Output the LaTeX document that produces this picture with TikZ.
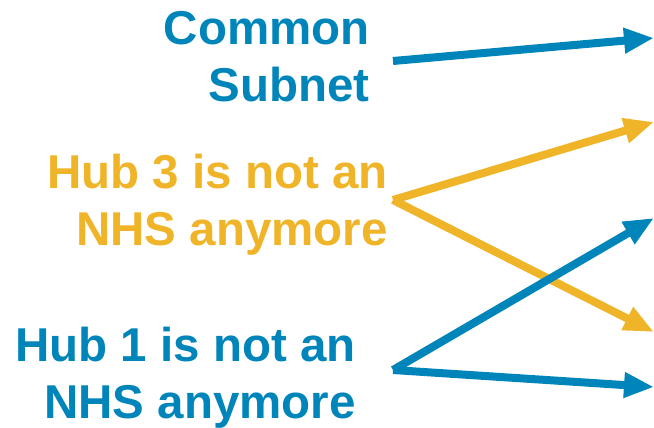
\documentclass[tikz,border=0pt]{standalone}
\usepackage{fontspec}
\setmainfont{Liberation Sans}
\usepackage{xcolor}
\usepackage{tikz}
\usetikzlibrary{arrows.meta}

\definecolor{hubblue}{HTML}{0085BA}
\definecolor{hubyellow}{HTML}{F0B428}

\tikzset{
  labeltext/.style={font=\bfseries\fontsize{47.5}{57}\selectfont, align=right, inner sep=0pt, anchor=north east},
  bigarrow/.style={line width=8pt, -{Triangle[length=30pt,width=24pt]}},
}

\begin{document}
\begin{tikzpicture}[x=1pt,y=-1pt]
            \useasboundingbox (0,0) rectangle (654,428);
            %%% COORDINATES %%%
            \coordinate (cs) at (393,61);
            \coordinate (h3) at (393,200);
            \coordinate (h1) at (393,370);
            \coordinate (t1) at (654,38);
            \coordinate (t2) at (654,122);
            \coordinate (t3) at (654,218);
            \coordinate (t4) at (654,332);
            \coordinate (t5) at (654,387);

            %%% LABELS %%%
            \node[labeltext, text=hubblue] (common) at (370,11) {Common\\Subnet};
            \node[labeltext, text=hubyellow] (hubthree) at (388,154) {Hub 3 is not an\\NHS anymore};
            \node[labeltext, text=hubblue] (hubone) at (356,327) {Hub 1 is not an\\NHS anymore};

            %%% ARROWS %%%
            \draw[bigarrow, hubblue] (cs)--(t1);
            \draw[bigarrow, hubyellow] (h3)--(t2);
            \draw[bigarrow, hubyellow] (h3)--(t4);
            \draw[bigarrow, hubblue] (h1)--(t3);
            \draw[bigarrow, hubblue] (h1)--(t5);
\end{tikzpicture}
\end{document}
